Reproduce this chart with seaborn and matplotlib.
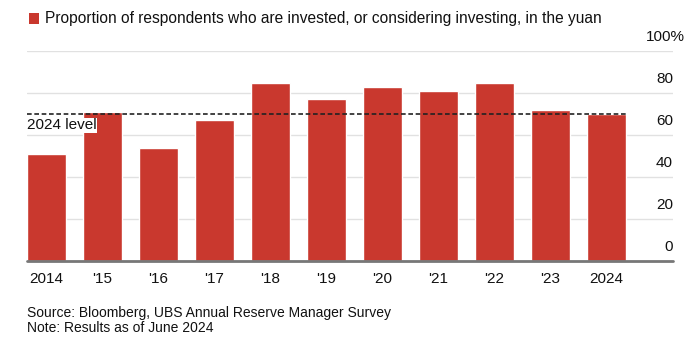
import matplotlib
matplotlib.use("Agg")
import matplotlib.pyplot as plt
import seaborn as sns
import pandas as pd

years = ["2014", "'15", "'16", "'17", "'18", "'19", "'20", "'21", "'22", "'23", "2024"]
values = [51, 71, 54, 67, 85, 77, 83, 81, 85, 72, 70]
level_2024 = 70
ytick_values = [0, 20, 40, 60, 80, 100]
ytick_labels = ["0", "20", "40", "60", "80", "100%"]

sns.set_theme(style="white")
plt.rcParams['font.family'] = ['Liberation Sans', 'DejaVu Sans']

RED = "#c9382e"
TXT = "#111111"
df = pd.DataFrame({"year": years, "value": values})

fig = plt.figure(figsize=(7, 3.53), dpi=100)
ax = fig.add_axes([27/700, 1-261/353, (673-27)/700, (261-51)/353])

for v in ytick_values[1:]:
    ax.axhline(v, color="#e1e1e1", lw=1, zorder=0)

sns.barplot(data=df, x="year", y="value", color=RED, width=0.7, ax=ax,
            saturation=1, zorder=2)

ax.set_xlim(-0.35, 11.19)
ax.set_ylim(0, 100)
ax.plot([-0.35, 10.35], [level_2024, level_2024], ls=(0, (2.8, 1.6)), color="#222222",
        lw=1.2, zorder=3)
ax.text(-0.35, level_2024 - 5.4, "2024 level", fontsize=11, va="center", ha="left", color=TXT,
        zorder=4, bbox=dict(facecolor="white", edgecolor="none", pad=0.3))

ax.axhline(0, color="#777777", lw=2, zorder=5, clip_on=False)

for s in ax.spines.values():
    s.set_visible(False)
ax.set_xlabel("")
ax.set_ylabel("")
ax.set_yticks([])
ax.tick_params(axis="x", length=0, pad=8, labelsize=11, colors=TXT)

# right-side y labels above gridlines ("%" hangs past the gridline end)
for v, lab in zip(ytick_values, ytick_labels):
    xpos = 1.0 + (12/646 if lab.endswith("%") else 0)
    ax.text(xpos, v + 6.7, lab, transform=ax.get_yaxis_transform(), ha="right", va="center",
            fontsize=11, color=TXT, clip_on=False)

# legend-like header
fig.patches.append(plt.Rectangle((29/700, 1-24/353), 10/700, 11/353, transform=fig.transFigure,
                                 facecolor=RED, edgecolor="none"))
fig.text(45/700, 1-19/353, "Proportion of respondents who are invested, or considering investing, in the yuan",
         fontsize=11.2, va="center", ha="left", color=TXT)

fig.text(27/700, 1-313/353, "Source: Bloomberg, UBS Annual Reserve Manager Survey",
         fontsize=10, va="center", ha="left", color=TXT)
fig.text(27/700, 1-328/353, "Note: Results as of June 2024",
         fontsize=10, va="center", ha="left", color=TXT)

fig.savefig("out.png", dpi=100)
